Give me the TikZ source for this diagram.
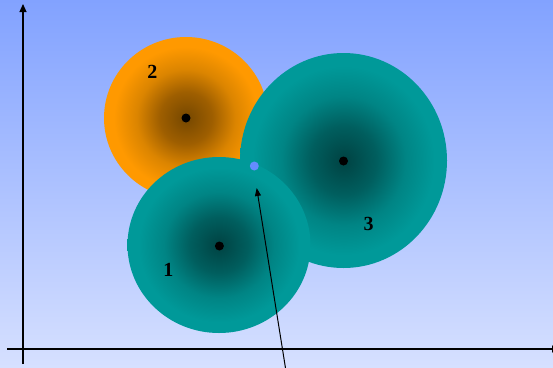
\documentclass[tikz,border=0pt]{standalone}
\usepackage{fontspec}
\setmainfont{Liberation Serif}
\usetikzlibrary{shapes.geometric,arrows.meta}
\pgfdeclareradialshading{tealball}{\pgfpoint{0bp}{0bp}}{rgb(0bp)=(0,0.26,0.26);rgb(8bp)=(0,0.37,0.37);rgb(15bp)=(0,0.52,0.52);rgb(22bp)=(0,0.6,0.6);rgb(50bp)=(0,0.6,0.6)}
\pgfdeclareradialshading{orangeball}{\pgfpoint{0bp}{0bp}}{rgb(0bp)=(0.46,0.28,0);rgb(8bp)=(0.62,0.37,0);rgb(15bp)=(0.86,0.52,0);rgb(22bp)=(1,0.6,0);rgb(50bp)=(1,0.6,0)}
\definecolor{bgtop}{RGB}{130,162,255}
\definecolor{bgbot}{RGB}{214,224,255}
\definecolor{dotblue}{RGB}{100,140,255}
\begin{document}
\begin{tikzpicture}[x=1pt,y=-1pt,
  ball/.style={ellipse,inner sep=0pt,draw=none,shade},
  cdot/.style={circle,fill=black,inner sep=0pt,minimum size=9pt},
  bdot/.style={circle,fill=dotblue,inner sep=0pt,minimum size=9pt},
  lab/.style={inner sep=0pt,font=\fontsize{20}{20}\selectfont\bfseries},
  axis/.style={line width=1.2pt,-{Triangle[length=8pt,width=7pt]}},
  pointer/.style={line width=1pt,-{Triangle[length=8pt,width=6pt]}}]
\shade[top color=bgtop,bottom color=bgbot] (0,0) rectangle (553,367);
\useasboundingbox (0,0) rectangle (553,367);
\node[ball,shading=orangeball,minimum width=164pt,minimum height=162pt] (c2) at (186,118) {};
\node[ball,shading=tealball,minimum width=207pt,minimum height=215pt] (c3) at (343.5,160.5) {};
\node[ball,shading=tealball,minimum width=183pt,minimum height=176pt] (c1) at (219,245) {};
\node[cdot] (d2) at (186,118) {};
\node[cdot] (d3) at (343.5,161) {};
\node[cdot] (d1) at (219.4,246) {};
\node[bdot] (bd) at (254.3,166) {};
\node[lab] (l2) at (152.4,72) {2};
\node[lab] (l1) at (168.3,270) {1};
\node[lab] (l3) at (368.6,224) {3};
\coordinate (yb) at (23,364);
\coordinate (yt) at (23,4);
\coordinate (xl) at (7,349);
\coordinate (xr) at (560,349);
\draw[axis] (yb) -- (yt);
\draw[axis] (xl) -- (xr);
\coordinate (pb) at (286.6,375);
\coordinate (pt) at (256.7,188);
\draw[pointer] (pb) -- (pt);
\end{tikzpicture}
\end{document}
